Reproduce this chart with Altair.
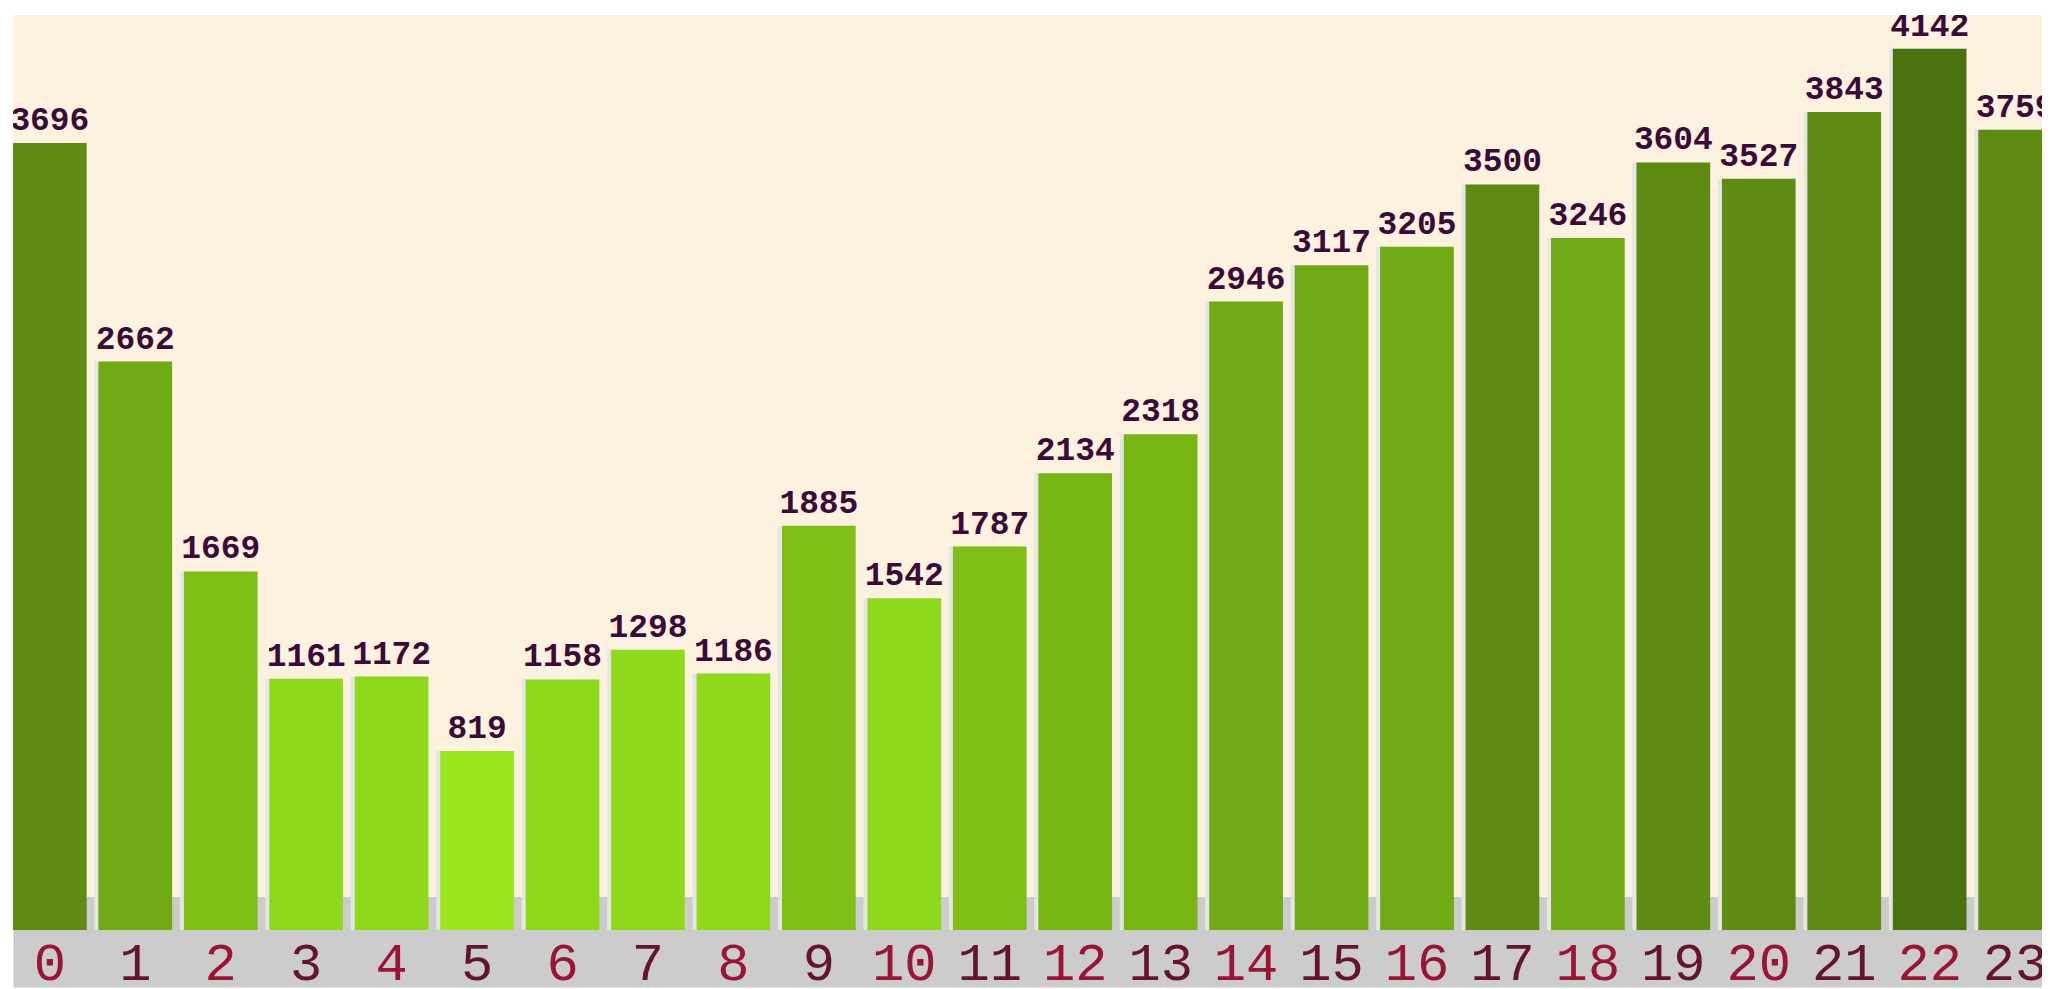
import altair as alt
import pandas as pd

hours = [str(h) for h in range(24)]
counts = [3696, 2662, 1669, 1161, 1172, 819, 1158, 1298, 1186, 1885, 1542, 1787,
          2134, 2318, 2946, 3117, 3205, 3500, 3246, 3604, 3527, 3843, 4142, 3759]

color_breaks = [1000, 1600, 2000, 2500, 3300, 4000]
color_shades = ["#9be61c", "#8ed91c", "#7fbf18", "#78b616", "#70aa14", "#5e8c12", "#4a7310"]

df = pd.DataFrame({"hour": hours, "count": counts})

PLOT_W = 2037
PLOT_H = 919
X_RANGE_END = 2047
Y_DOMAIN = [-29, 4302]

x_scale = alt.Scale(range=[0, X_RANGE_END], paddingInner=0.1375, paddingOuter=0)

band_axis = alt.Axis(
    orient="bottom",
    title=None,
    ticks=False,
    labels=False,
    domainColor="#cccccc",
    domainWidth=91,
    offset=11.5,
    zindex=0,
)

label_axis = alt.Axis(
    orient="bottom",
    title=None,
    ticks=False,
    domain=False,
    offset=11.5,
    zindex=1,
    labelFont="Liberation Mono",
    labelFontSize=54,
    labelAngle=0,
    labelBaseline="alphabetic",
    labelPadding=38,
    labelFlush=False,
    labelOverlap=False,
    labelColor=alt.condition("datum.value % 2 == 0", alt.value("#991437"), alt.value("#641433")),
)

y_enc = alt.Y("count:Q", scale=alt.Scale(domain=Y_DOMAIN, nice=False, zero=False), axis=None)

base = alt.Chart(df)

shadow = base.mark_bar(color="#e6e6e6", xOffset=-4, clip=True).encode(
    x=alt.X("hour:N", sort=hours, scale=x_scale, axis=band_axis),
    y=y_enc,
    y2=alt.datum(Y_DOMAIN[0]),
)

bars = base.mark_bar(clip=True).encode(
    x=alt.X("hour:N", sort=hours, scale=x_scale, axis=label_axis),
    y=y_enc,
    y2=alt.datum(Y_DOMAIN[0]),
    color=alt.Color(
        "count:Q",
        scale=alt.Scale(type="threshold", domain=color_breaks, range=color_shades),
        legend=None,
    ),
)

labels = base.mark_text(
    font="Liberation Mono",
    fontWeight="bold",
    fontSize=33,
    color="#3b0b38",
    baseline="alphabetic",
    align="center",
    dy=-13,
    clip=True,
).encode(
    x=alt.X("hour:N", sort=hours, scale=x_scale, axis=None),
    y=y_enc,
    text="count:Q",
)

chart = (
    alt.layer(shadow, bars, labels)
    .resolve_axis(x="independent")
    .properties(
        width=PLOT_W,
        height=PLOT_H,
        autosize=alt.AutoSizeParams(type="none"),
        padding={"left": 5, "top": 5, "right": 0, "bottom": 57},
        background="white",
    )
    .configure_view(fill="#fdf1e0", stroke=None)
)

chart.save("out.html", embed_options={"renderer": "svg", "actions": False})
